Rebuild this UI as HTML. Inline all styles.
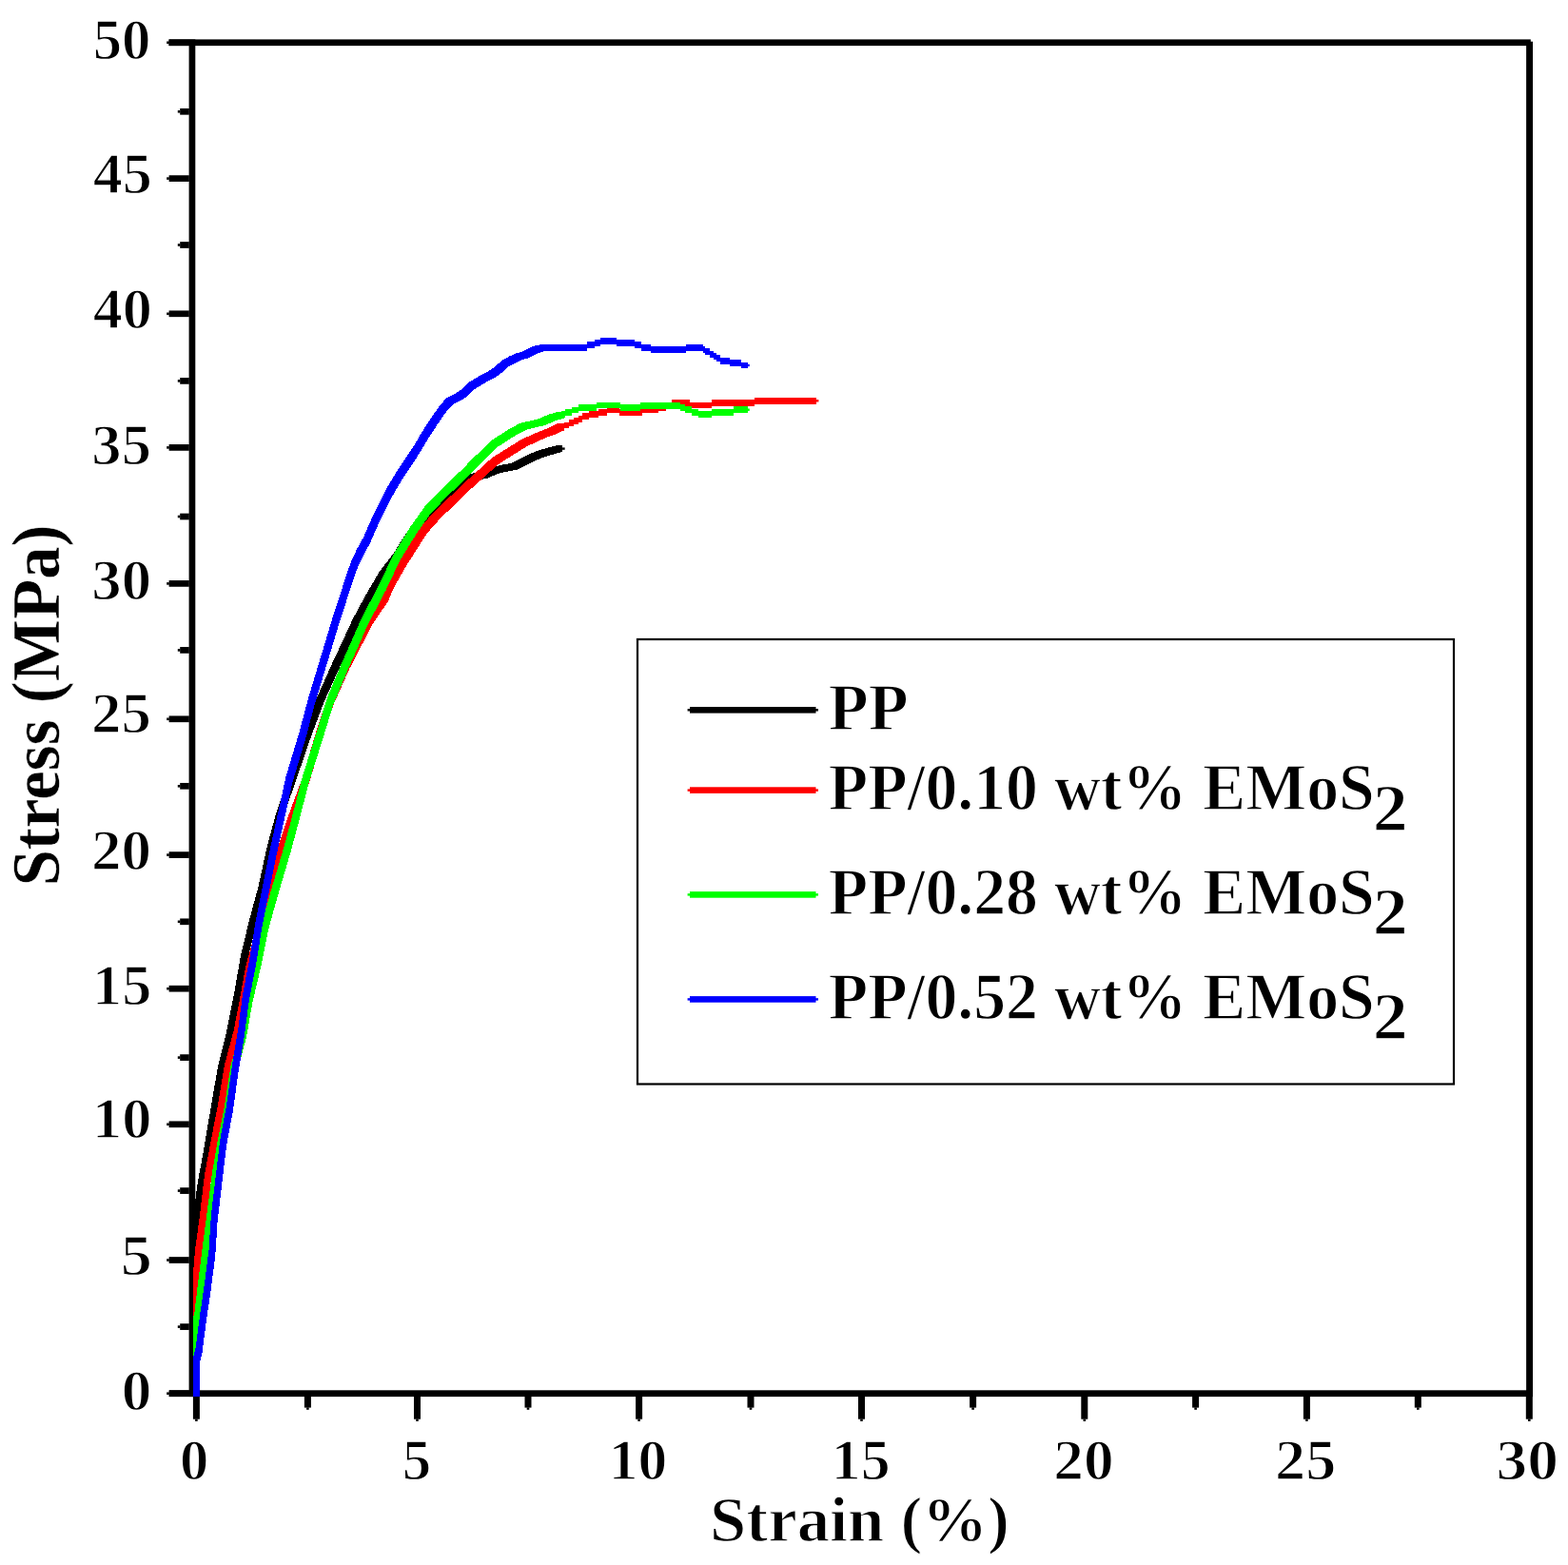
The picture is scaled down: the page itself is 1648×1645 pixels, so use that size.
<!DOCTYPE html>
<html><head><meta charset="utf-8"><title>Stress-strain curves</title>
<style>
html,body{margin:0;padding:0;background:#fff;}
body{width:1648px;height:1645px;overflow:hidden;}
svg{display:block;}
text{font-family:'Liberation Serif', 'Times New Roman', serif;font-weight:bold;fill:#000;stroke:#fff;stroke-width:1.3px;paint-order:fill;}
</style></head>
<body>
<svg width="1648" height="1645" viewBox="0 0 1648 1645">
<rect x="0" y="0" width="1648" height="1645" fill="#fff"/>
<rect x="177.5" y="41.4" width="1431.3" height="6.7" fill="#000"/>
<rect x="177.9" y="1461.3" width="1433.1" height="6.8" fill="#000"/>
<rect x="198.6" y="41.4" width="6.7" height="1426.7" fill="#000"/>
<rect x="1604.1" y="43.7" width="6.9" height="1424.4" fill="#000"/>
<rect x="177.6" y="1461.35" width="21.2" height="6.7" fill="#000"/>
<rect x="175.2" y="1463.40" width="2.6" height="2.6" fill="#000"/>
<rect x="189.2" y="1391.25" width="9.6" height="6.7" fill="#000"/>
<rect x="186.8" y="1393.30" width="2.6" height="2.6" fill="#000"/>
<rect x="177.6" y="1321.15" width="21.2" height="6.7" fill="#000"/>
<rect x="175.2" y="1323.20" width="2.6" height="2.6" fill="#000"/>
<rect x="189.2" y="1248.25" width="9.6" height="6.7" fill="#000"/>
<rect x="186.8" y="1250.30" width="2.6" height="2.6" fill="#000"/>
<rect x="177.6" y="1178.45" width="21.2" height="6.7" fill="#000"/>
<rect x="175.2" y="1180.50" width="2.6" height="2.6" fill="#000"/>
<rect x="189.2" y="1108.25" width="9.6" height="6.7" fill="#000"/>
<rect x="186.8" y="1110.30" width="2.6" height="2.6" fill="#000"/>
<rect x="177.6" y="1035.85" width="21.2" height="6.7" fill="#000"/>
<rect x="175.2" y="1037.90" width="2.6" height="2.6" fill="#000"/>
<rect x="189.2" y="965.45" width="9.6" height="6.7" fill="#000"/>
<rect x="186.8" y="967.50" width="2.6" height="2.6" fill="#000"/>
<rect x="177.6" y="895.25" width="21.2" height="6.7" fill="#000"/>
<rect x="175.2" y="897.30" width="2.6" height="2.6" fill="#000"/>
<rect x="189.2" y="822.95" width="9.6" height="6.7" fill="#000"/>
<rect x="186.8" y="825.00" width="2.6" height="2.6" fill="#000"/>
<rect x="177.6" y="752.45" width="21.2" height="6.7" fill="#000"/>
<rect x="175.2" y="754.50" width="2.6" height="2.6" fill="#000"/>
<rect x="189.2" y="680.05" width="9.6" height="6.7" fill="#000"/>
<rect x="186.8" y="682.10" width="2.6" height="2.6" fill="#000"/>
<rect x="177.6" y="610.05" width="21.2" height="6.7" fill="#000"/>
<rect x="175.2" y="612.10" width="2.6" height="2.6" fill="#000"/>
<rect x="189.2" y="539.65" width="9.6" height="6.7" fill="#000"/>
<rect x="186.8" y="541.70" width="2.6" height="2.6" fill="#000"/>
<rect x="177.6" y="467.05" width="21.2" height="6.7" fill="#000"/>
<rect x="175.2" y="469.10" width="2.6" height="2.6" fill="#000"/>
<rect x="189.2" y="397.05" width="9.6" height="6.7" fill="#000"/>
<rect x="186.8" y="399.10" width="2.6" height="2.6" fill="#000"/>
<rect x="177.6" y="326.45" width="21.2" height="6.7" fill="#000"/>
<rect x="175.2" y="328.50" width="2.6" height="2.6" fill="#000"/>
<rect x="189.2" y="254.15" width="9.6" height="6.7" fill="#000"/>
<rect x="186.8" y="256.20" width="2.6" height="2.6" fill="#000"/>
<rect x="177.6" y="184.25" width="21.2" height="6.7" fill="#000"/>
<rect x="175.2" y="186.30" width="2.6" height="2.6" fill="#000"/>
<rect x="189.2" y="113.95" width="9.6" height="6.7" fill="#000"/>
<rect x="186.8" y="116.00" width="2.6" height="2.6" fill="#000"/>
<rect x="177.6" y="41.40" width="21.2" height="6.7" fill="#000"/>
<rect x="175.2" y="43.45" width="2.6" height="2.6" fill="#000"/>
<rect x="202.90" y="1466" width="7" height="25.7" fill="#000"/>
<rect x="205.10" y="1491.5" width="2.6" height="2.4" fill="#000"/>
<rect x="319.90" y="1466" width="7" height="13.6" fill="#000"/>
<rect x="322.10" y="1479.4" width="2.6" height="2.4" fill="#000"/>
<rect x="435.00" y="1466" width="7" height="25.7" fill="#000"/>
<rect x="437.20" y="1491.5" width="2.6" height="2.4" fill="#000"/>
<rect x="551.50" y="1466" width="7" height="13.6" fill="#000"/>
<rect x="553.70" y="1479.4" width="2.6" height="2.4" fill="#000"/>
<rect x="668.10" y="1466" width="7" height="25.7" fill="#000"/>
<rect x="670.30" y="1491.5" width="2.6" height="2.4" fill="#000"/>
<rect x="785.50" y="1466" width="7" height="13.6" fill="#000"/>
<rect x="787.70" y="1479.4" width="2.6" height="2.4" fill="#000"/>
<rect x="902.00" y="1466" width="7" height="25.7" fill="#000"/>
<rect x="904.20" y="1491.5" width="2.6" height="2.4" fill="#000"/>
<rect x="1019.10" y="1466" width="7" height="13.6" fill="#000"/>
<rect x="1021.30" y="1479.4" width="2.6" height="2.4" fill="#000"/>
<rect x="1136.30" y="1466" width="7" height="25.7" fill="#000"/>
<rect x="1138.50" y="1491.5" width="2.6" height="2.4" fill="#000"/>
<rect x="1253.10" y="1466" width="7" height="13.6" fill="#000"/>
<rect x="1255.30" y="1479.4" width="2.6" height="2.4" fill="#000"/>
<rect x="1369.90" y="1466" width="7" height="25.7" fill="#000"/>
<rect x="1372.10" y="1491.5" width="2.6" height="2.4" fill="#000"/>
<rect x="1486.80" y="1466" width="7" height="13.6" fill="#000"/>
<rect x="1489.00" y="1479.4" width="2.6" height="2.4" fill="#000"/>
<rect x="1603.80" y="1466" width="7" height="25.7" fill="#000"/>
<rect x="1606.00" y="1491.5" width="2.6" height="2.4" fill="#000"/>

<defs><clipPath id="pc"><rect x="202.9" y="48" width="1401.2" height="1420"/></clipPath></defs>
<g clip-path="url(#pc)">
<path d="M200.95,1326.65 201.15,1295.65 207.85,1295.65 207.85,1302.35 207.65,1333.35 200.95,1333.35ZM201.15,1295.65 203.05,1277.45 209.75,1277.45 209.75,1284.15 207.85,1302.35 201.15,1302.35ZM203.05,1277.45 205.55,1259.25 212.25,1259.25 212.25,1265.95 209.75,1284.15 203.05,1284.15ZM205.55,1259.25 208.05,1240.95 214.75,1240.95 214.75,1247.65 212.25,1265.95 205.55,1265.95ZM208.05,1240.95 210.35,1228.85 217.05,1228.85 217.05,1235.55 214.75,1247.65 208.05,1247.65ZM210.35,1228.85 212.65,1216.65 219.35,1216.65 219.35,1223.35 217.05,1235.55 210.35,1235.55ZM212.65,1216.65 222.05,1161.65 228.75,1161.65 228.75,1168.35 219.35,1223.35 212.65,1223.35ZM222.05,1161.65 229.25,1119.55 235.95,1119.55 235.95,1126.25 228.75,1168.35 222.05,1168.35ZM229.25,1119.55 238.35,1083.15 245.05,1083.15 245.05,1089.85 235.95,1126.25 229.25,1126.25ZM238.35,1083.15 245.65,1046.65 252.35,1046.65 252.35,1053.35 245.05,1089.85 238.35,1089.85ZM245.65,1046.65 252.95,1004.55 259.65,1004.55 259.65,1011.25 252.35,1053.35 245.65,1053.35ZM252.95,1004.55 261.75,968.15 268.45,968.15 268.45,974.85 259.65,1011.25 252.95,1011.25ZM261.75,968.15 271.55,931.65 278.25,931.65 278.25,938.35 268.45,974.85 261.75,974.85ZM271.55,931.65 280.75,889.55 287.45,889.55 287.45,896.25 278.25,938.35 271.55,938.35ZM280.75,889.55 290.65,853.15 297.35,853.15 297.35,859.85 287.45,896.25 280.75,896.25ZM290.65,853.15 303.35,816.65 310.05,816.65 310.05,823.35 297.35,859.85 290.65,859.85ZM303.35,816.65 319.55,769.55 326.25,769.55 326.25,776.25 310.05,823.35 303.35,823.35ZM319.55,769.55 333.05,733.15 339.75,733.15 339.75,739.85 326.25,776.25 319.55,776.25ZM333.05,733.15 349.45,696.65 356.15,696.65 356.15,703.35 339.75,739.85 333.05,739.85ZM349.45,696.65 371.35,649.55 378.05,649.55 378.05,656.25 356.15,703.35 349.45,703.35ZM371.35,649.55 384.25,625.75 390.95,625.75 390.95,632.45 378.05,656.25 371.35,656.25ZM384.25,625.75 391.65,613.15 398.35,613.15 398.35,619.85 390.95,632.45 384.25,632.45ZM391.65,613.15 398.65,600.95 405.35,600.95 405.35,607.65 398.35,619.85 391.65,619.85ZM398.65,600.95 408.05,588.85 414.75,588.85 414.75,595.55 405.35,607.65 398.65,607.65ZM408.05,588.85 415.05,579.65 421.75,579.65 421.75,586.35 414.75,595.55 408.05,595.55ZM415.05,579.65 422.15,567.65 428.85,567.65 428.85,574.35 421.75,586.35 415.05,586.35ZM422.15,567.65 429.65,556.65 436.35,556.65 436.35,563.35 428.85,574.35 422.15,574.35ZM429.65,556.65 451.25,533.75 457.95,533.75 457.95,540.45 436.35,563.35 429.65,563.35ZM451.25,533.75 463.95,521.65 470.65,521.65 470.65,528.35 457.95,540.45 451.25,540.45ZM463.95,521.65 478.65,508.65 485.35,508.65 485.35,515.35 470.65,528.35 463.95,528.35ZM478.65,508.65 491.25,498.75 497.95,498.75 497.95,505.45 485.35,515.35 478.65,515.35ZM491.25,498.75 505.75,495.85 512.45,495.85 512.45,502.55 497.95,505.45 491.25,505.45ZM505.75,495.85 516.75,491.25 523.45,491.25 523.45,497.95 512.45,502.55 505.75,502.55ZM516.75,491.25 527.65,488.65 534.35,488.65 534.35,495.35 523.45,497.95 516.75,497.95ZM527.65,488.65 536.65,487.15 543.35,487.15 543.35,493.85 534.35,495.35 527.65,495.35ZM536.65,487.15 546.65,482.35 553.35,482.35 553.35,489.05 543.35,493.85 536.65,493.85ZM546.65,482.35 556.65,477.05 563.35,477.05 563.35,483.75 553.35,489.05 546.65,489.05ZM556.65,477.05 566.65,473.15 573.35,473.15 573.35,479.85 563.35,483.75 556.65,483.75ZM566.65,473.15 576.65,470.35 583.35,470.35 583.35,477.05 573.35,479.85 566.65,479.85ZM576.65,470.35 584.65,468.25 591.35,468.25 591.35,474.95 583.35,477.05 576.65,477.05Z" fill="#000000" fill-rule="nonzero" shape-rendering="crispEdges"/>
<rect x="591.05" y="470.40" width="2.6" height="2.4" fill="#000000"/>
<path d="M200.65,1381.65 201.95,1349.55 208.65,1349.55 208.65,1356.25 207.35,1388.35 200.65,1388.35ZM201.95,1349.55 205.15,1313.15 211.85,1313.15 211.85,1319.85 208.65,1356.25 201.95,1356.25ZM205.15,1313.15 210.05,1276.65 216.75,1276.65 216.75,1283.35 211.85,1319.85 205.15,1319.85ZM210.05,1276.65 215.05,1234.55 221.75,1234.55 221.75,1241.25 216.75,1283.35 210.05,1283.35ZM215.05,1234.55 221.85,1198.15 228.55,1198.15 228.55,1204.85 221.75,1241.25 215.05,1241.25ZM221.85,1198.15 228.95,1161.65 235.65,1161.65 235.65,1168.35 228.55,1204.85 221.85,1204.85ZM228.95,1161.65 235.95,1119.55 242.65,1119.55 242.65,1126.25 235.65,1168.35 228.95,1168.35ZM235.95,1119.55 245.65,1083.15 252.35,1083.15 252.35,1089.85 242.65,1126.25 235.95,1126.25ZM245.65,1083.15 252.65,1046.65 259.35,1046.65 259.35,1053.35 252.35,1089.85 245.65,1089.85ZM252.65,1046.65 257.15,1021.55 263.85,1021.55 263.85,1028.25 259.35,1053.35 252.65,1053.35ZM257.15,1021.55 259.65,1010.05 266.35,1010.05 266.35,1016.75 263.85,1028.25 257.15,1028.25ZM259.65,1010.05 273.15,962.65 279.85,962.65 279.85,969.35 266.35,1016.75 259.65,1016.75ZM273.15,962.65 275.65,950.05 282.35,950.05 282.35,956.75 279.85,969.35 273.15,969.35ZM275.65,950.05 281.65,925.75 288.35,925.75 288.35,932.45 282.35,956.75 275.65,956.75ZM281.65,925.75 288.65,901.55 295.35,901.55 295.35,908.25 288.35,932.45 281.65,932.45ZM288.65,901.55 292.15,890.05 298.85,890.05 298.85,896.75 295.35,908.25 288.65,908.25ZM292.15,890.05 300.15,865.75 306.85,865.75 306.85,872.45 298.85,896.75 292.15,896.75ZM300.15,865.75 304.65,853.15 311.35,853.15 311.35,859.85 306.85,872.45 300.15,872.45ZM304.65,853.15 318.15,816.65 324.85,816.65 324.85,823.35 311.35,859.85 304.65,859.85ZM318.15,816.65 332.15,769.55 338.85,769.55 338.85,776.25 324.85,823.35 318.15,823.35ZM332.15,769.55 344.15,733.15 350.85,733.15 350.85,739.85 338.85,776.25 332.15,776.25ZM344.15,733.15 360.35,696.65 367.05,696.65 367.05,703.35 350.85,739.85 344.15,739.85ZM360.35,696.65 384.85,649.55 391.55,649.55 391.55,656.25 367.05,703.35 360.35,703.35ZM384.85,649.55 401.25,625.25 407.95,625.25 407.95,631.95 391.55,656.25 384.85,656.25ZM401.25,625.25 406.15,613.15 412.85,613.15 412.85,619.85 407.95,631.95 401.25,631.95ZM406.15,613.15 412.85,600.95 419.55,600.95 419.55,607.65 412.85,619.85 406.15,619.85ZM412.85,600.95 419.85,588.85 426.55,588.85 426.55,595.55 419.55,607.65 412.85,607.65ZM419.85,588.85 423.35,583.35 430.05,583.35 430.05,590.05 426.55,595.55 419.85,595.55ZM423.35,583.35 441.95,554.15 448.65,554.15 448.65,560.85 430.05,590.05 423.35,590.05ZM441.95,554.15 456.65,537.55 463.35,537.55 463.35,544.25 448.65,560.85 441.95,560.85ZM456.65,537.55 466.65,528.15 473.35,528.15 473.35,534.85 463.35,544.25 456.65,544.25ZM466.65,528.15 476.65,518.45 483.35,518.45 483.35,525.15 473.35,534.85 466.65,534.85ZM476.65,518.45 486.65,508.65 493.35,508.65 493.35,515.35 483.35,525.15 476.65,525.15ZM486.65,508.65 496.65,499.85 503.35,499.85 503.35,506.55 493.35,515.35 486.65,515.35ZM496.65,499.85 516.65,481.55 523.35,481.55 523.35,488.25 503.35,506.55 496.65,506.55ZM516.65,481.55 536.65,468.95 543.35,468.95 543.35,475.65 523.35,488.25 516.65,488.25ZM536.65,468.95 546.65,462.65 553.35,462.65 553.35,469.35 543.35,475.65 536.65,475.65ZM546.65,462.65 556.65,458.05 563.35,458.05 563.35,464.75 553.35,469.35 546.65,469.35ZM556.65,458.05 566.65,453.55 573.35,453.55 573.35,460.25 563.35,464.75 556.65,464.75ZM566.65,453.55 576.65,449.95 583.35,449.95 583.35,456.65 573.35,460.25 566.65,460.25ZM576.65,449.95 586.65,444.85 593.35,444.85 593.35,451.55 583.35,456.65 576.65,456.65ZM590,446.05H593.3V452.75H590ZM593.3,443.65H598V450.35H593.3ZM598,441.35H603.4V448.05H598ZM603.4,439.05H608V445.75H603.4ZM608,436.85H612V443.55H608ZM612,434.35H619.4V441.05H612ZM619.4,432.05H628.7V438.75H619.4ZM628.7,429.85H638.1V436.55H628.7ZM638.1,427.65H651V434.35H638.1ZM651,430.05H675.4V436.75H651ZM675.4,427.65H692.1V434.35H675.4ZM692.1,425.35H700V432.05H692.1ZM700,423.15H706V429.85H700ZM706,420.05H724.7V426.75H706ZM724.7,422.65H748V429.35H724.7ZM748,420.15H792.8V426.85H748ZM792.8,417.95H858.1V424.65H792.8Z" fill="#ff0000" fill-rule="nonzero" shape-rendering="crispEdges"/>
<rect x="857.80" y="420.10" width="2.6" height="2.4" fill="#ff0000"/>
<path d="M202.65,1428.65 202.95,1382.65 209.65,1382.65 209.65,1389.35 209.35,1435.35 202.65,1435.35ZM202.85,1393.35 202.95,1382.65 209.65,1382.65 209.65,1389.35 209.55,1400.05 202.85,1400.05ZM202.85,1393.35 207.95,1349.55 214.65,1349.55 214.65,1356.25 209.55,1400.05 202.85,1400.05ZM207.95,1349.55 212.45,1313.15 219.15,1313.15 219.15,1319.85 214.65,1356.25 207.95,1356.25ZM212.45,1313.15 217.15,1278.35 223.85,1278.35 223.85,1285.05 219.15,1319.85 212.45,1319.85ZM217.15,1278.35 222.65,1234.55 229.35,1234.55 229.35,1241.25 223.85,1285.05 217.15,1285.05ZM222.65,1234.55 228.85,1198.15 235.55,1198.15 235.55,1204.85 229.35,1241.25 222.65,1241.25ZM228.85,1198.15 236.15,1161.65 242.85,1161.65 242.85,1168.35 235.55,1204.85 228.85,1204.85ZM236.15,1161.65 242.65,1119.55 249.35,1119.55 249.35,1126.25 242.85,1168.35 236.15,1168.35ZM242.65,1119.55 252.35,1083.15 259.05,1083.15 259.05,1089.85 249.35,1126.25 242.65,1126.25ZM252.35,1083.15 258.75,1046.65 265.45,1046.65 265.45,1053.35 259.05,1089.85 252.35,1089.85ZM258.75,1046.65 268.65,1004.55 275.35,1004.55 275.35,1011.25 265.45,1053.35 258.75,1053.35ZM268.65,1004.55 275.95,968.15 282.65,968.15 282.65,974.85 275.35,1011.25 268.65,1011.25ZM275.95,968.15 286.15,931.65 292.85,931.65 292.85,938.35 282.65,974.85 275.95,974.85ZM286.15,931.65 298.65,889.55 305.35,889.55 305.35,896.25 292.85,938.35 286.15,938.35ZM298.65,889.55 308.35,853.15 315.05,853.15 315.05,859.85 305.35,896.25 298.65,896.25ZM308.35,853.15 317.75,816.65 324.45,816.65 324.45,823.35 315.05,859.85 308.35,859.85ZM317.75,816.65 332.65,769.55 339.35,769.55 339.35,776.25 324.45,823.35 317.75,823.35ZM332.65,769.55 343.95,733.15 350.65,733.15 350.65,739.85 339.35,776.25 332.65,776.25ZM343.95,733.15 359.25,696.65 365.95,696.65 365.95,703.35 350.65,739.85 343.95,739.85ZM359.25,696.65 380.15,649.55 386.85,649.55 386.85,656.25 365.95,703.35 359.25,703.35ZM380.15,649.55 399.15,613.15 405.85,613.15 405.85,619.85 386.85,656.25 380.15,656.25ZM399.15,613.15 413.15,583.35 419.85,583.35 419.85,590.05 405.85,619.85 399.15,619.85ZM413.15,583.35 431.05,554.15 437.75,554.15 437.75,560.85 419.85,590.05 413.15,590.05ZM431.05,554.15 446.65,532.15 453.35,532.15 453.35,538.85 437.75,560.85 431.05,560.85ZM446.65,532.15 456.65,521.95 463.35,521.95 463.35,528.65 453.35,538.85 446.65,538.85ZM456.65,521.95 466.65,511.85 473.35,511.85 473.35,518.55 463.35,528.65 456.65,528.65ZM466.65,511.85 476.65,502.25 483.35,502.25 483.35,508.95 473.35,518.55 466.65,518.55ZM476.65,502.25 486.65,492.45 493.35,492.45 493.35,499.15 483.35,508.95 476.65,508.95ZM486.65,492.45 496.65,482.25 503.35,482.25 503.35,488.95 493.35,499.15 486.65,499.15ZM496.65,482.25 516.65,462.85 523.35,462.85 523.35,469.55 503.35,488.95 496.65,488.95ZM516.65,462.85 536.65,450.05 543.35,450.05 543.35,456.75 523.35,469.55 516.65,469.55ZM536.65,450.05 546.65,444.85 553.35,444.85 553.35,451.55 543.35,456.75 536.65,456.75ZM546.65,444.85 556.65,442.55 563.35,442.55 563.35,449.25 553.35,451.55 546.65,451.55ZM556.65,442.55 566.65,440.15 573.35,440.15 573.35,446.85 563.35,449.25 556.65,449.25ZM566.65,440.15 576.65,435.65 583.35,435.65 583.35,442.35 573.35,446.85 566.65,446.85ZM576.65,435.65 586.65,432.85 593.35,432.85 593.35,439.55 583.35,442.35 576.65,442.35ZM590,432.05H594V438.75H590ZM594,429.85H601V436.55H594ZM601,427.65H608V434.35H601ZM608,425.15H626.7V431.85H608ZM626.7,422.75H652.1V429.45H626.7ZM652.1,425.15H673.4V431.85H652.1ZM673.4,422.85H715.4V429.55H673.4ZM715.4,425.15H720V431.85H715.4ZM720,427.15H727.4V433.85H720ZM727.4,429.85H734V436.55H727.4ZM734,432.05H748V438.75H734ZM748,429.85H771.4V436.55H748ZM771.4,427.35H785.5V434.05H771.4Z" fill="#00ff00" fill-rule="nonzero" shape-rendering="crispEdges"/>
<rect x="785.20" y="429.50" width="2.6" height="2.4" fill="#00ff00"/>
<path d="M203.05,1426.65 209.75,1426.65 209.75,1467.55 203.05,1467.55ZM203.05,1426.65 205.65,1416.15 212.35,1416.15 212.35,1422.85 209.75,1433.35 203.05,1433.35ZM205.65,1416.15 208.05,1397.95 214.75,1397.95 214.75,1404.65 212.35,1422.85 205.65,1422.85ZM208.05,1397.95 210.05,1382.65 216.75,1382.65 216.75,1389.35 214.75,1404.65 208.05,1404.65ZM210.05,1382.65 214.95,1349.55 221.65,1349.55 221.65,1356.25 216.75,1389.35 210.05,1389.35ZM214.95,1349.55 219.55,1313.15 226.25,1313.15 226.25,1319.85 221.65,1356.25 214.95,1356.25ZM219.55,1313.15 221.95,1276.65 228.65,1276.65 228.65,1283.35 226.25,1319.85 219.55,1319.85ZM221.95,1276.65 226.95,1234.55 233.65,1234.55 233.65,1241.25 228.65,1283.35 221.95,1283.35ZM226.95,1234.55 231.25,1198.15 237.95,1198.15 237.95,1204.85 233.65,1241.25 226.95,1241.25ZM231.25,1198.15 238.05,1161.65 244.75,1161.65 244.75,1168.35 237.95,1204.85 231.25,1204.85ZM238.05,1161.65 243.95,1119.55 250.65,1119.55 250.65,1126.25 244.75,1168.35 238.05,1168.35ZM243.95,1119.55 250.05,1083.15 256.75,1083.15 256.75,1089.85 250.65,1126.25 243.95,1126.25ZM250.05,1083.15 254.85,1046.65 261.55,1046.65 261.55,1053.35 256.75,1089.85 250.05,1089.85ZM254.85,1046.65 262.85,1004.55 269.55,1004.55 269.55,1011.25 261.55,1053.35 254.85,1053.35ZM262.85,1004.55 268.65,968.15 275.35,968.15 275.35,974.85 269.55,1011.25 262.85,1011.25ZM268.65,968.15 275.95,931.65 282.65,931.65 282.65,938.35 275.35,974.85 268.65,974.85ZM275.95,931.65 284.45,889.55 291.15,889.55 291.15,896.25 282.65,938.35 275.95,938.35ZM284.45,889.55 292.45,853.15 299.15,853.15 299.15,859.85 291.15,896.25 284.45,896.25ZM292.45,853.15 300.45,816.65 307.15,816.65 307.15,823.35 299.15,859.85 292.45,859.85ZM300.45,816.65 314.55,769.55 321.25,769.55 321.25,776.25 307.15,823.35 300.45,823.35ZM314.55,769.55 324.25,733.15 330.95,733.15 330.95,739.85 321.25,776.25 314.55,776.25ZM324.25,733.15 335.25,696.65 341.95,696.65 341.95,703.35 330.95,739.85 324.25,739.85ZM335.25,696.65 349.45,649.55 356.15,649.55 356.15,656.25 341.95,703.35 335.25,703.35ZM349.45,649.55 361.25,613.15 367.95,613.15 367.95,619.85 356.15,656.25 349.45,656.25ZM361.25,613.15 364.55,602.75 371.25,602.75 371.25,609.45 367.95,619.85 361.25,619.85ZM364.55,602.75 369.15,589.95 375.85,589.95 375.85,596.65 371.25,609.45 364.55,609.45ZM369.15,589.95 375.15,577.15 381.85,577.15 381.85,583.85 375.85,596.65 369.15,596.65ZM375.15,577.15 382.15,564.45 388.85,564.45 388.85,571.15 381.85,583.85 375.15,583.85ZM382.15,564.45 386.55,554.15 393.25,554.15 393.25,560.85 388.85,571.15 382.15,571.15ZM386.55,554.15 393.15,539.55 399.85,539.55 399.85,546.25 393.25,560.85 386.55,560.85ZM393.15,539.55 400.45,525.05 407.15,525.05 407.15,531.75 399.85,546.25 393.15,546.25ZM400.45,525.05 408.05,510.45 414.75,510.45 414.75,517.15 407.15,531.75 400.45,531.75ZM408.05,510.45 416.85,495.85 423.55,495.85 423.55,502.55 414.75,517.15 408.05,517.15ZM416.85,495.85 426.65,481.25 433.35,481.25 433.35,487.95 423.55,502.55 416.85,502.55ZM426.65,481.25 436.15,466.65 442.85,466.65 442.85,473.35 433.35,487.95 426.65,487.95ZM436.15,466.65 443.45,454.15 450.15,454.15 450.15,460.85 442.85,473.35 436.15,473.35ZM443.45,454.15 452.95,439.55 459.65,439.55 459.65,446.25 450.15,460.85 443.45,460.85ZM452.95,439.55 463.15,425.05 469.85,425.05 469.85,431.75 459.65,446.25 452.95,446.25ZM463.15,425.05 469.65,418.15 476.35,418.15 476.35,424.85 469.85,431.75 463.15,431.75ZM469.65,418.15 476.65,414.85 483.35,414.85 483.35,421.55 476.35,424.85 469.65,424.85ZM476.65,414.85 483.95,410.15 490.65,410.15 490.65,416.85 483.35,421.55 476.65,421.55ZM483.95,410.15 491.25,402.85 497.95,402.85 497.95,409.55 490.65,416.85 483.95,416.85ZM491.25,402.85 498.45,398.45 505.15,398.45 505.15,405.15 497.95,409.55 491.25,409.55ZM498.45,398.45 505.75,394.05 512.45,394.05 512.45,400.75 505.15,405.15 498.45,405.15ZM505.75,394.05 513.05,390.45 519.75,390.45 519.75,397.15 512.45,400.75 505.75,400.75ZM513.05,390.45 520.35,385.35 527.05,385.35 527.05,392.05 519.75,397.15 513.05,397.15ZM520.35,385.35 527.65,378.75 534.35,378.75 534.35,385.45 527.05,392.05 520.35,392.05ZM527.65,378.75 534.95,374.75 541.65,374.75 541.65,381.45 534.35,385.45 527.65,385.45ZM534.95,374.75 542.15,371.55 548.85,371.55 548.85,378.25 541.65,381.45 534.95,381.45ZM542.15,371.55 549.45,369.35 556.15,369.35 556.15,376.05 548.85,378.25 542.15,378.25ZM549.45,369.35 556.75,365.45 563.45,365.45 563.45,372.15 556.15,376.05 549.45,376.05ZM556.75,365.45 564.05,362.95 570.75,362.95 570.75,369.65 563.45,372.15 556.75,372.15ZM567.4,362.05H617.4V368.75H567.4ZM617.4,359.45H624.7V366.15H617.4ZM624.7,357.15H631.4V363.85H624.7ZM631.4,355.05H648.1V361.75H631.4ZM648.1,357.15H666.8V363.85H648.1ZM666.8,359.45H674.1V366.15H666.8ZM674.1,361.85H683.5V368.55H674.1ZM683.5,364.25H720.7V370.95H683.5ZM720.7,362.05H738.7V368.75H720.7ZM738.7,364.15H740.7V370.85H738.7ZM740.7,366.35H745.7V373.05H740.7ZM745.7,369.05H750.4V375.75H745.7ZM750.4,371.35H752.8V378.05H750.4ZM752.8,373.45H757.4V380.15H752.8ZM757.4,376.05H766.8V382.75H757.4ZM766.8,378.05H778.5V384.75H766.8ZM778.5,380.65H785.5V387.35H778.5Z" fill="#0000ff" fill-rule="nonzero" shape-rendering="crispEdges"/>
<rect x="785.20" y="382.80" width="2.6" height="2.4" fill="#0000ff"/>

</g>
<text transform="translate(97.67,62.05) scale(1.0024,1)" font-size="60.6">50</text>
<text transform="translate(97.65,202.65) scale(1.0252,1)" font-size="60.6">45</text>
<text transform="translate(97.65,345.45) scale(1.0267,1)" font-size="60.6">40</text>
<text transform="translate(96.34,487.75) scale(1.0338,1)" font-size="60.6">35</text>
<text transform="translate(96.34,630.25) scale(1.0355,1)" font-size="60.6">30</text>
<text transform="translate(96.06,770.05) scale(1.0388,1)" font-size="60.6">25</text>
<text transform="translate(96.05,913.65) scale(1.0404,1)" font-size="60.6">20</text>
<text transform="translate(97.01,1056.05) scale(1.0275,1)" font-size="60.6">15</text>
<text transform="translate(97.01,1196.25) scale(1.0292,1)" font-size="60.6">10</text>
<text transform="translate(126.84,1339.55) scale(1.0953,1)" font-size="60.6">5</text>
<text transform="translate(127.69,1482.05) scale(1.0435,1)" font-size="60.6">0</text>
<text transform="translate(189.09,1554.65) scale(1.0006,1)" font-size="60.6">0</text>
<text transform="translate(422.76,1554.65) scale(1.0057,1)" font-size="60.6">5</text>
<text transform="translate(639.67,1554.65) scale(1.0161,1)" font-size="60.6">10</text>
<text transform="translate(873.84,1554.65) scale(1.0219,1)" font-size="60.6">15</text>
<text transform="translate(1107.34,1554.65) scale(1.0440,1)" font-size="60.6">20</text>
<text transform="translate(1340.10,1554.65) scale(1.0602,1)" font-size="60.6">25</text>
<text transform="translate(1572.44,1554.65) scale(1.0801,1)" font-size="60.6">30</text>
<text transform="translate(746.04,1620.45) scale(1.0122,1)" font-size="67.9">Strain (%)</text>
<text transform="translate(61.55,931.52) rotate(-90) scale(0.9680,1)" font-size="71.3" style="stroke-width:0.5px">Stress (MPa)</text>

<rect x="670" y="672" width="858" height="467.5" fill="none" stroke="#000" stroke-width="2.2"/>
<rect x="725" y="743.0" width="132.5" height="6.6" fill="#000000"/>
<rect x="722.6" y="745.1" width="3" height="2.4" fill="#000000"/>
<rect x="857" y="745.1" width="3" height="2.4" fill="#000000"/>
<text transform="translate(870.83,767.05) scale(0.9871,1)" font-size="69.5">PP</text>
<rect x="725" y="827.3" width="132.5" height="6.6" fill="#ff0000"/>
<rect x="722.6" y="829.4" width="3" height="2.4" fill="#ff0000"/>
<rect x="857" y="829.4" width="3" height="2.4" fill="#ff0000"/>
<text transform="translate(870.84,851.35) scale(0.9750,1)" font-size="69.5">PP/0.10 wt% EMoS</text>
<text transform="translate(1442.79,872.75) scale(1.0643,1)" font-size="69.5">2</text>
<rect x="725" y="937.1" width="132.5" height="6.6" fill="#00ff00"/>
<rect x="722.6" y="939.2" width="3" height="2.4" fill="#00ff00"/>
<rect x="857" y="939.2" width="3" height="2.4" fill="#00ff00"/>
<text transform="translate(870.84,960.95) scale(0.9750,1)" font-size="69.5">PP/0.28 wt% EMoS</text>
<text transform="translate(1442.79,982.35) scale(1.0643,1)" font-size="69.5">2</text>
<rect x="725" y="1047.1" width="132.5" height="6.6" fill="#0000ff"/>
<rect x="722.6" y="1049.2" width="3" height="2.4" fill="#0000ff"/>
<rect x="857" y="1049.2" width="3" height="2.4" fill="#0000ff"/>
<text transform="translate(870.84,1070.55) scale(0.9750,1)" font-size="69.5">PP/0.52 wt% EMoS</text>
<text transform="translate(1442.79,1091.95) scale(1.0643,1)" font-size="69.5">2</text>

</svg>
</body></html>
